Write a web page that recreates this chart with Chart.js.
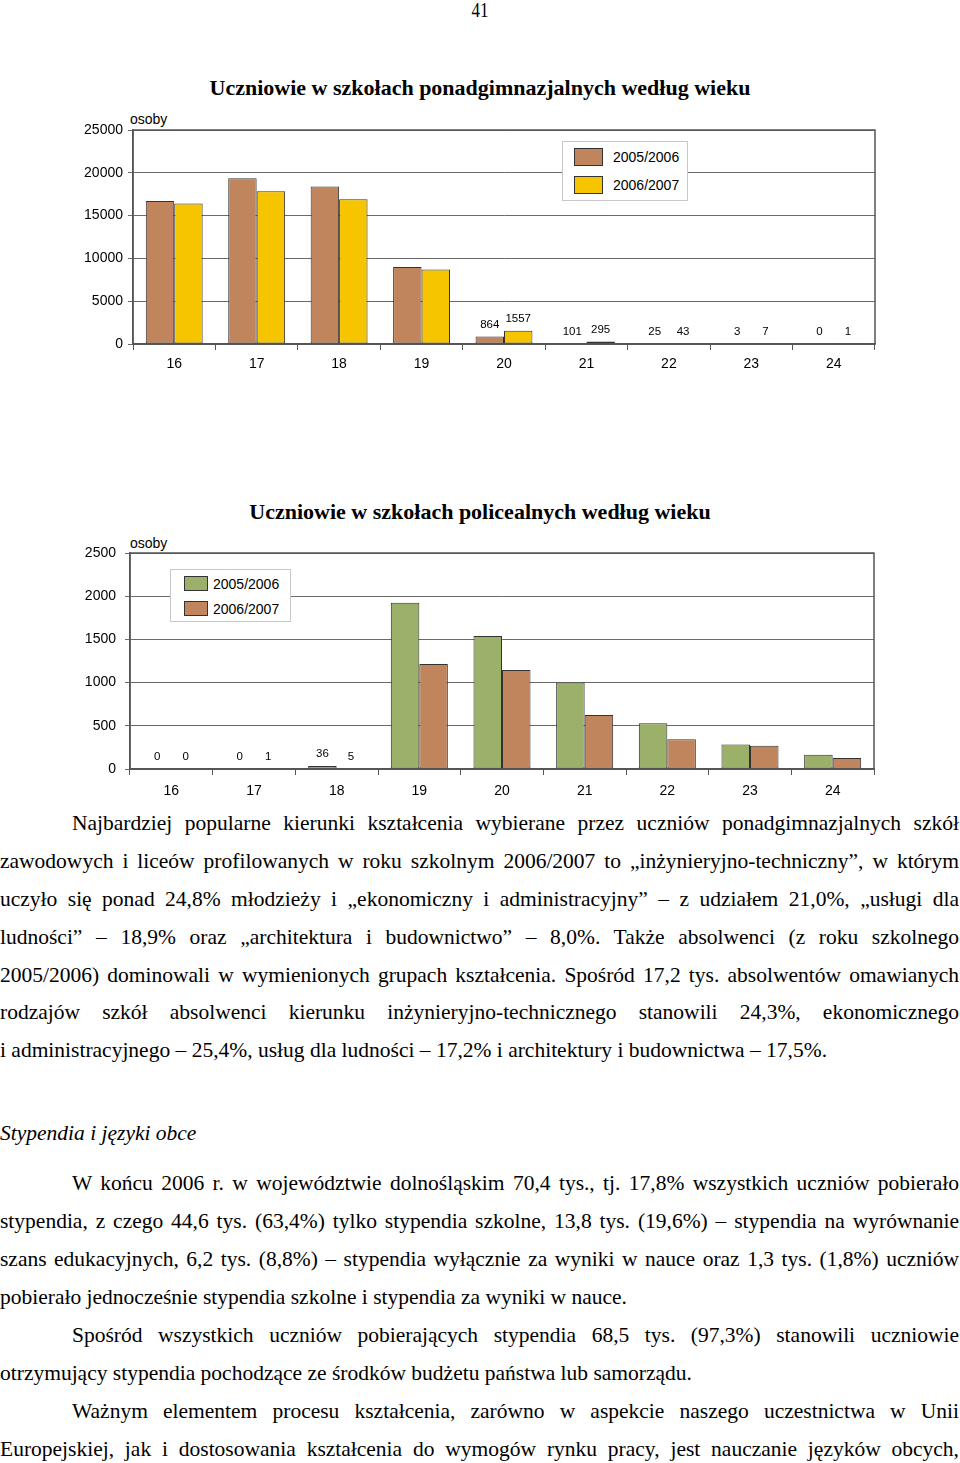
<!DOCTYPE html>
<html>
<head>
<meta charset="utf-8">
<script src="https://cdn.jsdelivr.net/npm/chart.js@4.4.0/dist/chart.umd.min.js"></script>
<style>
  body { margin: 0; width: 960px; height: 1463px; background: #fff; position: relative; overflow: hidden;
         font-family: "Liberation Serif", "Times New Roman", serif; color: #000; }
  .abs { position: absolute; }
  .pageno { left: 0; width: 960px; top: -1px; text-align: center; font-size: 20px; transform: scaleX(0.85); transform-origin: 480px 0; }
  .title { left: 0; width: 960px; text-align: center; font-weight: bold; font-size: 22px; }
  .sans { font-family: "Liberation Sans", Arial, sans-serif; font-size: 14px; }
  .legend { border: 1px solid #c8c8c8; background: #fff; }
  .legend .sw { position: absolute; border: 1px solid #333; box-sizing: border-box; }
  .legend .tx { position: absolute; line-height: 16px; }
  .ln { position: absolute; font-size: 21.5px; line-height: 24px; text-align: justify; text-align-last: justify;
        word-spacing: -1px; }
  .ln.last { text-align-last: left; word-spacing: 0; }
  .it { font-style: italic; text-align-last: left; word-spacing: 0; }
  canvas { position: absolute; left: 0; }
</style>
</head>
<body>
<div class="abs pageno">41</div>

<div class="abs title" style="top:75px">Uczniowie w szkołach ponadgimnazjalnych według wieku</div>
<div class="abs sans" style="left:130px; top:111px">osoby</div>
<canvas id="ponadChart" width="960" height="290" style="top:100px"></canvas>
<div id="ponadLegend" class="abs legend sans" style="left:562px; top:141px; width:124px; height:58px"></div>

<div class="abs title" style="top:499px">Uczniowie w szkołach policealnych według wieku</div>
<div class="abs sans" style="left:130px; top:535px">osoby</div>
<canvas id="policeChart" width="960" height="280" style="top:530px"></canvas>
<div id="policeLegend" class="abs legend sans" style="left:170px; top:569px; width:119px; height:51px"></div>

<div class="ln" style="left:72px; width:887px; top:811px">Najbardziej popularne kierunki kształcenia wybierane przez uczniów ponadgimnazjalnych szkół</div>
<div class="ln" style="left:0; width:959px; top:849px">zawodowych i liceów profilowanych w roku szkolnym 2006/2007 to „inżynieryjno-techniczny”, w którym</div>
<div class="ln" style="left:0; width:959px; top:887px">uczyło się ponad 24,8% młodzieży i „ekonomiczny i administracyjny” – z udziałem 21,0%, „usługi dla</div>
<div class="ln" style="left:0; width:959px; top:925px">ludności” – 18,9% oraz „architektura i budownictwo” – 8,0%. Także absolwenci (z roku szkolnego</div>
<div class="ln" style="left:0; width:959px; top:963px">2005/2006) dominowali w wymienionych grupach kształcenia. Spośród 17,2 tys. absolwentów omawianych</div>
<div class="ln" style="left:0; width:959px; top:1000px">rodzajów szkół absolwenci kierunku inżynieryjno-technicznego stanowili 24,3%, ekonomicznego</div>
<div class="ln last" style="left:0; width:959px; top:1038px">i administracyjnego – 25,4%, usług dla ludności – 17,2% i architektury i budownictwa – 17,5%.</div>

<div class="ln it" style="left:0; width:959px; top:1121px">Stypendia i języki obce</div>

<div class="ln" style="left:72px; width:887px; top:1171px">W końcu 2006 r. w województwie dolnośląskim 70,4 tys., tj. 17,8% wszystkich uczniów pobierało</div>
<div class="ln" style="left:0; width:959px; top:1209px">stypendia, z czego 44,6 tys. (63,4%) tylko stypendia szkolne, 13,8 tys. (19,6%) – stypendia na wyrównanie</div>
<div class="ln" style="left:0; width:959px; top:1247px">szans edukacyjnych, 6,2 tys. (8,8%) – stypendia wyłącznie za wyniki w nauce oraz 1,3 tys. (1,8%) uczniów</div>
<div class="ln last" style="left:0; width:959px; top:1285px">pobierało jednocześnie stypendia szkolne i stypendia za wyniki w nauce.</div>
<div class="ln" style="left:72px; width:887px; top:1323px">Spośród wszystkich uczniów pobierających stypendia 68,5 tys. (97,3%) stanowili uczniowie</div>
<div class="ln last" style="left:0; width:959px; top:1361px">otrzymujący stypendia pochodzące ze środków budżetu państwa lub samorządu.</div>
<div class="ln" style="left:72px; width:887px; top:1399px">Ważnym elementem procesu kształcenia, zarówno w aspekcie naszego uczestnictwa w Unii</div>
<div class="ln" style="left:0; width:959px; top:1437px">Europejskiej, jak i dostosowania kształcenia do wymogów rynku pracy, jest nauczanie języków obcych,</div>

<script>
const ages = ["16", "17", "18", "19", "20", "21", "22", "23", "24"];
const years = ["2005/2006", "2006/2007"];

// ponadgimnazjalne (osoby)
const ponad2005 = [16700, 19350, 18400, 9000, 864, 101, 25, 3, 0];
const ponad2006 = [16400, 17850, 16900, 8700, 1557, 295, 43, 7, 1];
const ponadLabelled = [4, 5, 6, 7, 8];
const ponadMax = 25000;
const ponadStep = 5000;

// policealne (osoby)
const police2005 = [0, 0, 36, 1925, 1540, 1000, 530, 285, 165];
const police2006 = [0, 1, 5, 1215, 1145, 625, 345, 270, 128];
const policeLabelled = [0, 1, 2];
const policeMax = 2500;
const policeStep = 500;

const brown = "#C0855D";
const yellow = "#F7C400";
const green = "#9BB16A";
const sans = "'Liberation Sans', Arial, sans-serif";

// ramka wokol obszaru wykresu
const framePlugin = {
  id: "frame",
  afterDatasetsDraw(chart) {
    const a = chart.chartArea;
    const ctx = chart.ctx;
    ctx.save();
    ctx.strokeStyle = "#555";
    ctx.lineWidth = 1.5;
    ctx.strokeRect(a.left, a.top, a.right - a.left, a.bottom - a.top);
    ctx.restore();
  },
};

// etykiety wartosci nad slupkami (tylko wybrane kategorie)
const valuePlugin = {
  id: "values",
  afterDatasetsDraw(chart, args, opts) {
    const ctx = chart.ctx;
    ctx.save();
    ctx.font = "11.5px " + sans;
    ctx.fillStyle = "#000";
    ctx.textAlign = "center";
    ctx.textBaseline = "bottom";
    chart.data.datasets.forEach((ds, di) => {
      const meta = chart.getDatasetMeta(di);
      opts.shown.forEach((i) => {
        const bar = meta.data[i];
        ctx.fillText(String(ds.data[i]), bar.x, bar.y - 6);
      });
    });
    ctx.restore();
  },
};

function renderLegend(id, colors, sw) {
  const box = document.getElementById(id);
  years.forEach((y, i) => {
    const s = document.createElement("div");
    s.className = "sw";
    s.style.cssText = `left:${sw.x}px; top:${sw.y + i * sw.gap}px; width:${sw.w}px; height:${sw.h}px; background:${colors[i]}`;
    box.appendChild(s);
    const t = document.createElement("div");
    t.className = "tx";
    t.textContent = y;
    t.style.cssText = `left:${sw.tx}px; top:${sw.y + i * sw.gap + sw.h / 2 - 8}px`;
    box.appendChild(t);
  });
}

function renderChart(id, seriesA, seriesB, colors, yMax, yStep, labelled, box) {
  const ctx = document.getElementById(id).getContext("2d");
  return new Chart(ctx, {
    type: "bar",
    data: {
      labels: ages,
      datasets: [
        { label: years[0], data: seriesA, backgroundColor: colors[0] },
        { label: years[1], data: seriesB, backgroundColor: colors[1] },
      ].map((d) => ({
        ...d,
        borderColor: "#333",
        borderWidth: 1,
        borderSkipped: false,
        categoryPercentage: 0.69,
        barPercentage: 1.0,
      })),
    },
    options: {
      responsive: false,
      animation: false,
      layout: { padding: { top: box.top, right: box.right, left: 0, bottom: 0 } },
      plugins: {
        legend: { display: false },
        tooltip: { enabled: false },
        values: { shown: labelled },
      },
      scales: {
        x: {
          offset: true,
          grid: { offset: true, drawOnChartArea: false, tickLength: 6, color: "#555" },
          border: { color: "#555", width: 1.5 },
          ticks: { padding: box.xPad, color: "#000", font: { family: sans, size: 14 } },
          afterFit(s) { s.height = box.xh; },
        },
        y: {
          min: 0,
          max: yMax,
          ticks: {
            stepSize: yStep,
            padding: box.yPad,
            color: "#000",
            font: { family: sans, size: 14 },
            callback: (v) => String(v),
          },
          grid: { color: "#6a6a6a", tickLength: 5, lineWidth: 1 },
          border: { color: "#555", width: 1.5 },
          afterFit(s) { s.width = box.yw; },
        },
      },
    },
    plugins: [framePlugin, valuePlugin],
  });
}

document.addEventListener("DOMContentLoaded", () => {
  renderChart("ponadChart", ponad2005, ponad2006, [brown, yellow], ponadMax, ponadStep, ponadLabelled,
    { top: 30, right: 85, xh: 46, yw: 133, yPad: 5, xPad: 6 });
  renderChart("policeChart", police2005, police2006, [green, brown], policeMax, policeStep, policeLabelled,
    { top: 23, right: 86, xh: 41, yw: 130, yPad: 9, xPad: 8 });

  renderLegend("ponadLegend", [brown, yellow], { x: 11, y: 6, w: 29, h: 18, gap: 28, tx: 50 });
  renderLegend("policeLegend", [green, brown], { x: 13, y: 6, w: 24, h: 15, gap: 25, tx: 42 });
});
</script>
</body>
</html>
